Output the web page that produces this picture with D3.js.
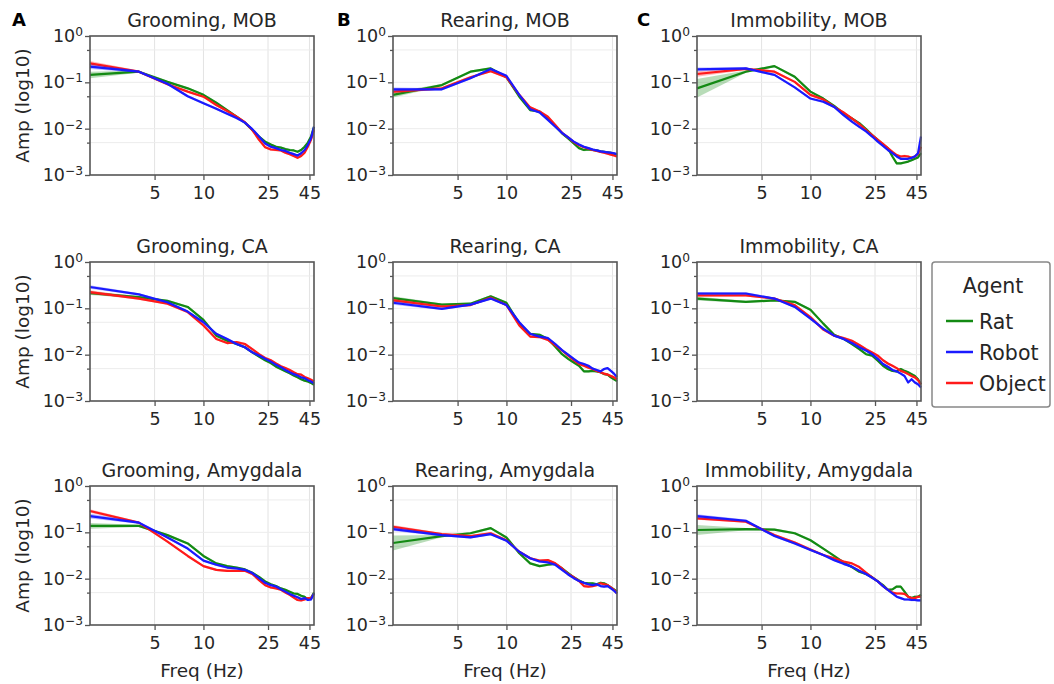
<!DOCTYPE html>
<html>
<head>
<meta charset="utf-8">
<script src="https://cdn.jsdelivr.net/npm/d3@7"></script>
<style>
body { margin: 0; background: #fff; }
text { font-family: "DejaVu Sans", sans-serif; }
</style>
</head>
<body>
<div id="chart"></div>
<script>
// frequencies (Hz) where the spectra are sampled
var freqs = [2,4,6,8,10,12,14,16,18,20,22,24,26,28,30,32,34,36,38,40,42,44,46,48];
var behaviors = ["Grooming", "Rearing", "Immobility"];
var regions = ["MOB", "CA", "Amygdala"];
var agents = ["Rat", "Robot", "Object"];
var panelLetters = ["A", "B", "C"];
var xTicks = [5, 10, 25, 45];
var yTicks = [1, 0.1, 0.01, 0.001];
var yTickExp = ["0", "\u22121", "\u22122", "\u22123"];
var yMinorTicks = [0.5, 0.05, 0.005];

// log10 amplitude, one array per panel and agent
var groomingMOB_rat    = [-0.84,-0.77,-0.99,-1.13,-1.27,-1.44,-1.60,-1.74,-1.87,-2.03,-2.17,-2.28,-2.34,-2.39,-2.41,-2.44,-2.46,-2.47,-2.50,-2.46,-2.39,-2.30,-2.17,-1.96];
var groomingMOB_robot  = [-0.66,-0.77,-1.03,-1.30,-1.45,-1.57,-1.68,-1.77,-1.87,-2.01,-2.17,-2.32,-2.39,-2.42,-2.46,-2.48,-2.52,-2.55,-2.58,-2.53,-2.46,-2.35,-2.21,-1.96];
var groomingMOB_object = [-0.59,-0.77,-1.04,-1.20,-1.31,-1.49,-1.62,-1.74,-1.86,-2.03,-2.24,-2.40,-2.45,-2.46,-2.47,-2.52,-2.55,-2.59,-2.63,-2.59,-2.52,-2.39,-2.24,-2.03];

var rearingMOB_rat    = [-1.27,-1.06,-0.77,-0.70,-0.89,-1.31,-1.60,-1.63,-1.78,-1.94,-2.10,-2.21,-2.32,-2.42,-2.46,-2.45,-2.46,-2.47,-2.49,-2.50,-2.51,-2.52,-2.54,-2.57];
var rearingMOB_robot  = [-1.15,-1.15,-0.91,-0.71,-0.86,-1.27,-1.58,-1.65,-1.81,-1.96,-2.09,-2.19,-2.28,-2.34,-2.39,-2.42,-2.45,-2.47,-2.49,-2.50,-2.51,-2.52,-2.53,-2.55];
var rearingMOB_object = [-1.20,-1.13,-0.89,-0.76,-0.89,-1.27,-1.54,-1.63,-1.74,-1.92,-2.09,-2.19,-2.29,-2.36,-2.40,-2.43,-2.46,-2.48,-2.50,-2.52,-2.54,-2.56,-2.58,-2.60];

var immobilityMOB_rat    = [-1.13,-0.77,-0.65,-0.88,-1.20,-1.35,-1.51,-1.67,-1.78,-1.88,-2.01,-2.14,-2.24,-2.35,-2.42,-2.60,-2.75,-2.75,-2.73,-2.71,-2.68,-2.65,-2.62,-2.53];
var immobilityMOB_robot  = [-0.72,-0.70,-0.84,-1.11,-1.35,-1.42,-1.53,-1.71,-1.85,-1.96,-2.06,-2.17,-2.28,-2.37,-2.46,-2.53,-2.60,-2.65,-2.65,-2.65,-2.63,-2.60,-2.53,-2.17];
var immobilityMOB_object = [-0.82,-0.71,-0.77,-0.99,-1.27,-1.37,-1.53,-1.65,-1.78,-1.90,-2.03,-2.14,-2.24,-2.33,-2.42,-2.50,-2.57,-2.60,-2.59,-2.60,-2.63,-2.60,-2.55,-2.39];

var groomingCA_rat    = [-0.67,-0.76,-0.84,-0.97,-1.25,-1.59,-1.70,-1.77,-1.84,-1.95,-2.04,-2.12,-2.18,-2.26,-2.31,-2.36,-2.40,-2.45,-2.49,-2.53,-2.56,-2.58,-2.61,-2.65];
var groomingCA_robot  = [-0.54,-0.70,-0.87,-1.07,-1.30,-1.55,-1.66,-1.77,-1.84,-1.95,-2.02,-2.09,-2.15,-2.22,-2.27,-2.33,-2.38,-2.42,-2.45,-2.49,-2.51,-2.55,-2.58,-2.62];
var groomingCA_object = [-0.65,-0.79,-0.90,-1.08,-1.37,-1.66,-1.75,-1.73,-1.77,-1.88,-1.99,-2.07,-2.12,-2.19,-2.25,-2.29,-2.33,-2.38,-2.42,-2.43,-2.48,-2.51,-2.54,-2.58];

var rearingCA_rat    = [-0.78,-0.92,-0.90,-0.74,-0.88,-1.33,-1.55,-1.57,-1.66,-1.83,-1.99,-2.09,-2.17,-2.24,-2.36,-2.36,-2.35,-2.36,-2.38,-2.42,-2.43,-2.49,-2.53,-2.57];
var rearingCA_robot  = [-0.88,-1.01,-0.92,-0.79,-0.93,-1.30,-1.55,-1.61,-1.64,-1.77,-1.90,-2.00,-2.09,-2.17,-2.20,-2.24,-2.30,-2.33,-2.36,-2.31,-2.29,-2.35,-2.41,-2.48];
var rearingCA_object = [-0.83,-0.96,-0.93,-0.77,-0.93,-1.37,-1.61,-1.62,-1.68,-1.80,-1.91,-2.02,-2.12,-2.20,-2.24,-2.28,-2.31,-2.35,-2.38,-2.41,-2.43,-2.46,-2.49,-2.53];

var immobilityCA_rat    = [-0.79,-0.86,-0.83,-0.86,-1.03,-1.33,-1.57,-1.66,-1.77,-1.88,-1.99,-2.02,-2.13,-2.24,-2.31,-2.35,-2.36,-2.31,-2.35,-2.38,-2.42,-2.46,-2.53,-2.64];
var immobilityCA_robot  = [-0.68,-0.68,-0.79,-0.97,-1.22,-1.44,-1.59,-1.66,-1.75,-1.84,-1.91,-1.99,-2.09,-2.20,-2.26,-2.33,-2.36,-2.41,-2.46,-2.60,-2.53,-2.60,-2.64,-2.71];
var immobilityCA_object = [-0.72,-0.72,-0.79,-0.93,-1.19,-1.46,-1.59,-1.64,-1.70,-1.79,-1.88,-1.95,-2.02,-2.12,-2.19,-2.24,-2.29,-2.35,-2.38,-2.42,-2.46,-2.49,-2.55,-2.64];

var groomingAmy_rat    = [-0.86,-0.86,-1.06,-1.24,-1.51,-1.67,-1.73,-1.76,-1.80,-1.87,-1.96,-2.06,-2.12,-2.16,-2.21,-2.24,-2.28,-2.32,-2.33,-2.37,-2.39,-2.45,-2.42,-2.30];
var groomingAmy_robot  = [-0.65,-0.79,-1.11,-1.35,-1.61,-1.70,-1.76,-1.78,-1.81,-1.88,-1.99,-2.09,-2.14,-2.17,-2.23,-2.28,-2.33,-2.37,-2.40,-2.44,-2.42,-2.46,-2.45,-2.32];
var groomingAmy_object = [-0.54,-0.79,-1.20,-1.51,-1.73,-1.81,-1.83,-1.83,-1.83,-1.90,-2.03,-2.14,-2.19,-2.21,-2.24,-2.30,-2.35,-2.41,-2.46,-2.47,-2.45,-2.42,-2.42,-2.33];

var rearingAmy_rat    = [-1.23,-1.08,-1.02,-0.91,-1.11,-1.45,-1.67,-1.73,-1.70,-1.68,-1.78,-1.88,-1.97,-2.04,-2.09,-2.10,-2.10,-2.12,-2.09,-2.10,-2.14,-2.19,-2.23,-2.28];
var rearingAmy_robot  = [-0.93,-1.06,-1.11,-1.04,-1.18,-1.42,-1.56,-1.63,-1.65,-1.70,-1.81,-1.91,-1.99,-2.05,-2.09,-2.12,-2.14,-2.12,-2.16,-2.17,-2.16,-2.21,-2.26,-2.32];
var rearingAmy_object = [-0.88,-1.04,-1.08,-1.02,-1.17,-1.42,-1.56,-1.61,-1.60,-1.67,-1.78,-1.90,-1.97,-2.05,-2.16,-2.17,-2.16,-2.14,-2.10,-2.12,-2.14,-2.19,-2.24,-2.32];

var immobilityAmy_rat    = [-0.95,-0.93,-0.94,-1.02,-1.17,-1.35,-1.51,-1.65,-1.75,-1.85,-1.90,-1.97,-2.06,-2.14,-2.24,-2.23,-2.17,-2.17,-2.28,-2.39,-2.42,-2.39,-2.39,-2.35];
var immobilityAmy_robot  = [-0.65,-0.75,-1.08,-1.24,-1.38,-1.49,-1.60,-1.68,-1.74,-1.83,-1.90,-1.98,-2.06,-2.16,-2.24,-2.32,-2.39,-2.42,-2.45,-2.45,-2.46,-2.46,-2.47,-2.47];
var immobilityAmy_object = [-0.70,-0.77,-1.06,-1.22,-1.37,-1.49,-1.56,-1.63,-1.67,-1.75,-1.87,-1.97,-2.06,-2.16,-2.24,-2.30,-2.32,-2.32,-2.33,-2.39,-2.42,-2.42,-2.39,-2.39];

// half-width of the shaded error band (log10) at 2 Hz, per panel (row-major)
var bandAt2Hz_rat    = [0.07, 0.06, 0.20, 0.04, 0.04, 0.04, 0.06, 0.16, 0.11];
var bandAt2Hz_robot  = [0.05, 0.04, 0.04, 0.04, 0.04, 0.03, 0.05, 0.04, 0.04];
var bandAt2Hz_object = [0.05, 0.04, 0.06, 0.04, 0.04, 0.03, 0.04, 0.04, 0.03];
var bandRest = 0.025;

var panelSeries = [
  [groomingMOB_rat, groomingMOB_robot, groomingMOB_object],
  [rearingMOB_rat, rearingMOB_robot, rearingMOB_object],
  [immobilityMOB_rat, immobilityMOB_robot, immobilityMOB_object],
  [groomingCA_rat, groomingCA_robot, groomingCA_object],
  [rearingCA_rat, rearingCA_robot, rearingCA_object],
  [immobilityCA_rat, immobilityCA_robot, immobilityCA_object],
  [groomingAmy_rat, groomingAmy_robot, groomingAmy_object],
  [rearingAmy_rat, rearingAmy_robot, rearingAmy_object],
  [immobilityAmy_rat, immobilityAmy_robot, immobilityAmy_object]
];
var bandHeads = [bandAt2Hz_rat, bandAt2Hz_robot, bandAt2Hz_object];

var colors = {Rat: "#138a13", Robot: "#1a1aff", Object: "#ff1a1a"};
var drawOrder = [0, 2, 1]; // rat, object, robot on top

var W = 1054, H = 684;
var colX = [90, 393, 697], rowY = [36, 262, 486];
var pw = 224, ph = 139;
var axisColor = "#555", textColor = "#262626";

var svg = d3.select("#chart").append("svg").attr("width", W).attr("height", H);

var x = d3.scaleLog().domain([2, 48]).range([0, pw]);
var y = d3.scaleLog().domain([0.001, 1]).range([ph, 0]);

var line = d3.line().x(function(d) { return x(d.f); }).y(function(d) { return y(d.v); });
var area = d3.area().x(function(d) { return x(d.f); })
  .y0(function(d) { return y(d.lo); }).y1(function(d) { return y(d.hi); });

for (var r = 0; r < 3; r++) {
  for (var c = 0; c < 3; c++) {
    var idx = r * 3 + c;
    var g = svg.append("g").attr("transform", "translate(" + colX[c] + "," + rowY[r] + ")");

    // grid
    g.selectAll(".vg").data(xTicks).enter().append("line")
      .attr("x1", function(d) { return x(d); }).attr("x2", function(d) { return x(d); })
      .attr("y1", 0).attr("y2", ph).attr("stroke", "#e3e3e3").attr("stroke-width", 1);
    g.selectAll(".hg").data(yTicks.slice(1, 3).concat(yMinorTicks)).enter().append("line")
      .attr("x1", 0).attr("x2", pw)
      .attr("y1", function(d) { return y(d); }).attr("y2", function(d) { return y(d); })
      .attr("stroke", "#ececec").attr("stroke-width", 1);

    // bands and lines
    drawOrder.forEach(function(a) {
      var vals = panelSeries[idx][a];
      var pts = freqs.map(function(f, i) {
        var hw = i === 0 ? bandHeads[a][idx] : bandRest;
        return {f: f, v: Math.pow(10, vals[i]), lo: Math.pow(10, vals[i] - hw), hi: Math.pow(10, vals[i] + hw)};
      });
      g.append("path").attr("d", area(pts)).attr("fill", colors[agents[a]]).attr("fill-opacity", 0.3);
      g.append("path").attr("d", line(pts)).attr("fill", "none")
        .attr("stroke", colors[agents[a]]).attr("stroke-width", 2.2).attr("stroke-linejoin", "round");
    });

    // axes
    var xa = g.append("g").attr("transform", "translate(0," + ph + ")")
      .call(d3.axisBottom(x).tickValues(xTicks).tickFormat(d3.format("d")).tickSize(5).tickPadding(7).tickSizeOuter(0));
    var ya = g.append("g")
      .call(d3.axisLeft(y).tickValues(yTicks).tickFormat(function() { return ""; }).tickSize(5).tickPadding(2).tickSizeOuter(0));
    g.append("g")
      .call(d3.axisLeft(y).tickValues(yMinorTicks).tickFormat(function() { return ""; }).tickSize(3).tickSizeOuter(0));
    g.selectAll(".domain").remove();
    g.selectAll(".tick line").attr("stroke", axisColor).attr("stroke-width", 1.3);
    xa.selectAll("text").attr("font-size", 17.5).attr("fill", textColor);
    ya.selectAll(".tick text").attr("font-size", 17.5).attr("fill", textColor).each(function(d, i) {
      var t = d3.select(this);
      t.text(null);
      t.append("tspan").text("10");
      t.append("tspan").attr("dy", "-0.5em").attr("font-size", "0.7em").text(yTickExp[i]);
    });

    // frame
    g.append("rect").attr("width", pw).attr("height", ph).attr("fill", "none")
      .attr("stroke", axisColor).attr("stroke-width", 1.6);

    // title
    g.append("text").attr("x", pw / 2).attr("y", -9).attr("text-anchor", "middle")
      .attr("font-size", 19).attr("fill", textColor)
      .text(behaviors[c] + ", " + regions[r]);

    if (c === 0) {
      svg.append("text").attr("transform", "translate(29," + (rowY[r] + ph / 2) + ") rotate(-90)")
        .attr("text-anchor", "middle").attr("font-size", 18.5).attr("fill", textColor)
        .text("Amp (log10)");
    }
    if (r === 2) {
      g.append("text").attr("x", pw / 2).attr("y", ph + 52).attr("text-anchor", "middle")
        .attr("font-size", 18.5).attr("fill", textColor).text("Freq (Hz)");
    }
    if (r === 0) {
      svg.append("text").attr("x", [12, 337, 637][c]).attr("y", 26)
        .attr("font-family", "Liberation Sans, Arial, sans-serif").attr("font-weight", "bold")
        .attr("font-size", 18).attr("fill", "#000").text(panelLetters[c]);
    }
  }
}

// legend
var lg = svg.append("g").attr("transform", "translate(932,262)");
lg.append("rect").attr("width", 118).attr("height", 145).attr("rx", 3)
  .attr("fill", "#fff").attr("stroke", "#888").attr("stroke-width", 1.5);
lg.append("text").attr("x", 61).attr("y", 31).attr("text-anchor", "middle")
  .attr("font-size", 20.5).attr("fill", textColor).text("Agent");
agents.forEach(function(a, i) {
  var yy = 59 + i * 31;
  lg.append("line").attr("x1", 14).attr("x2", 41).attr("y1", yy).attr("y2", yy)
    .attr("stroke", colors[a]).attr("stroke-width", 2.5);
  lg.append("text").attr("x", 47).attr("y", yy + 8).attr("font-size", 20.5)
    .attr("fill", textColor).text(a);
});
</script>
</body>
</html>
